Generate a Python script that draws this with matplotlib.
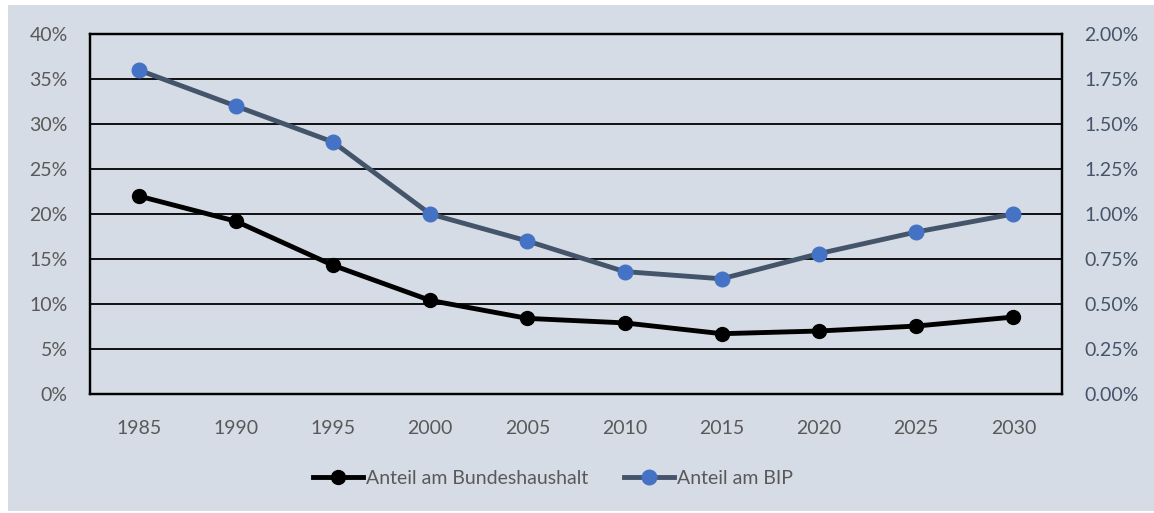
import matplotlib
matplotlib.use("Agg")
import matplotlib.pyplot as plt
from matplotlib.patches import Rectangle
from matplotlib.ticker import FuncFormatter, MultipleLocator

years = [1985, 1990, 1995, 2000, 2005, 2010, 2015, 2020, 2025, 2030]
anteil_haushalt = [22.0, 19.2, 14.3, 10.4, 8.4, 7.9, 6.7, 7.0, 7.55, 8.55]   # left axis, %
anteil_bip = [1.80, 1.60, 1.40, 1.00, 0.85, 0.68, 0.64, 0.78, 0.90, 1.00]     # right axis, %
labels = ["Anteil am Bundeshaushalt", "Anteil am BIP"]

bg = "#D6DCE5"
plt.rcParams['font.family'] = ['Lato', 'DejaVu Sans']

fig = plt.figure(figsize=(11.54, 5.13), dpi=100, facecolor="white")
fig.patches.append(Rectangle((8 / 1154, 2 / 513), 1 - 8 / 1154, 1 - 7 / 513,
                             transform=fig.transFigure, facecolor=bg, edgecolor="none", zorder=-5))

W, H = 1154, 513
ax = fig.add_axes([90 / W, (H - 394) / H, (1062 - 90) / W, (394 - 34) / H])
ax.set_facecolor(bg)
ax2 = ax.twinx()

x = range(len(years))
l1, = ax.plot(x, anteil_haushalt, color="black", lw=3.5, marker="o", ms=10,
              markerfacecolor="black", markeredgecolor="black", label=labels[0], zorder=3)
l2, = ax2.plot(x, anteil_bip, color="#44546A", lw=3.5, marker="o", ms=10.5,
               markerfacecolor="#4472C4", markeredgecolor="#4472C4", label=labels[1], zorder=3)

ax.set_xlim(-0.5, len(years) - 0.5)
ax.set_xticks(list(x))
ax.set_xticklabels([str(y) for y in years])
ax.set_ylim(0, 40)
ax.yaxis.set_major_locator(MultipleLocator(5))
ax.yaxis.set_major_formatter(FuncFormatter(lambda v, p: f"{v:.0f}%"))
ax2.set_ylim(0, 2)
ax2.yaxis.set_major_locator(MultipleLocator(0.25))
ax2.yaxis.set_major_formatter(FuncFormatter(lambda v, p: f"{v:.2f}%"))

ax.grid(axis="y", color="black", lw=1.3, zorder=1)
ax.set_axisbelow(True)
for a in (ax, ax2):
    for s in a.spines.values():
        s.set_color("black")
        s.set_linewidth(1.6)

ax.tick_params(axis="both", length=0, labelsize=14, colors="#595959")
ax.tick_params(axis="y", pad=16)
ax.tick_params(axis="x", pad=19)
ax2.tick_params(axis="y", length=0, labelsize=14, colors="#44546A", pad=16)

fig.legend([l1, l2], labels, loc="center", bbox_to_anchor=(553 / W, 1 - 478 / H), ncol=2,
           frameon=False, fontsize=14, labelcolor="#595959", handlelength=2.6,
           handletextpad=0.15, columnspacing=1.8)

fig.savefig("out.png", dpi=100, facecolor="white")
